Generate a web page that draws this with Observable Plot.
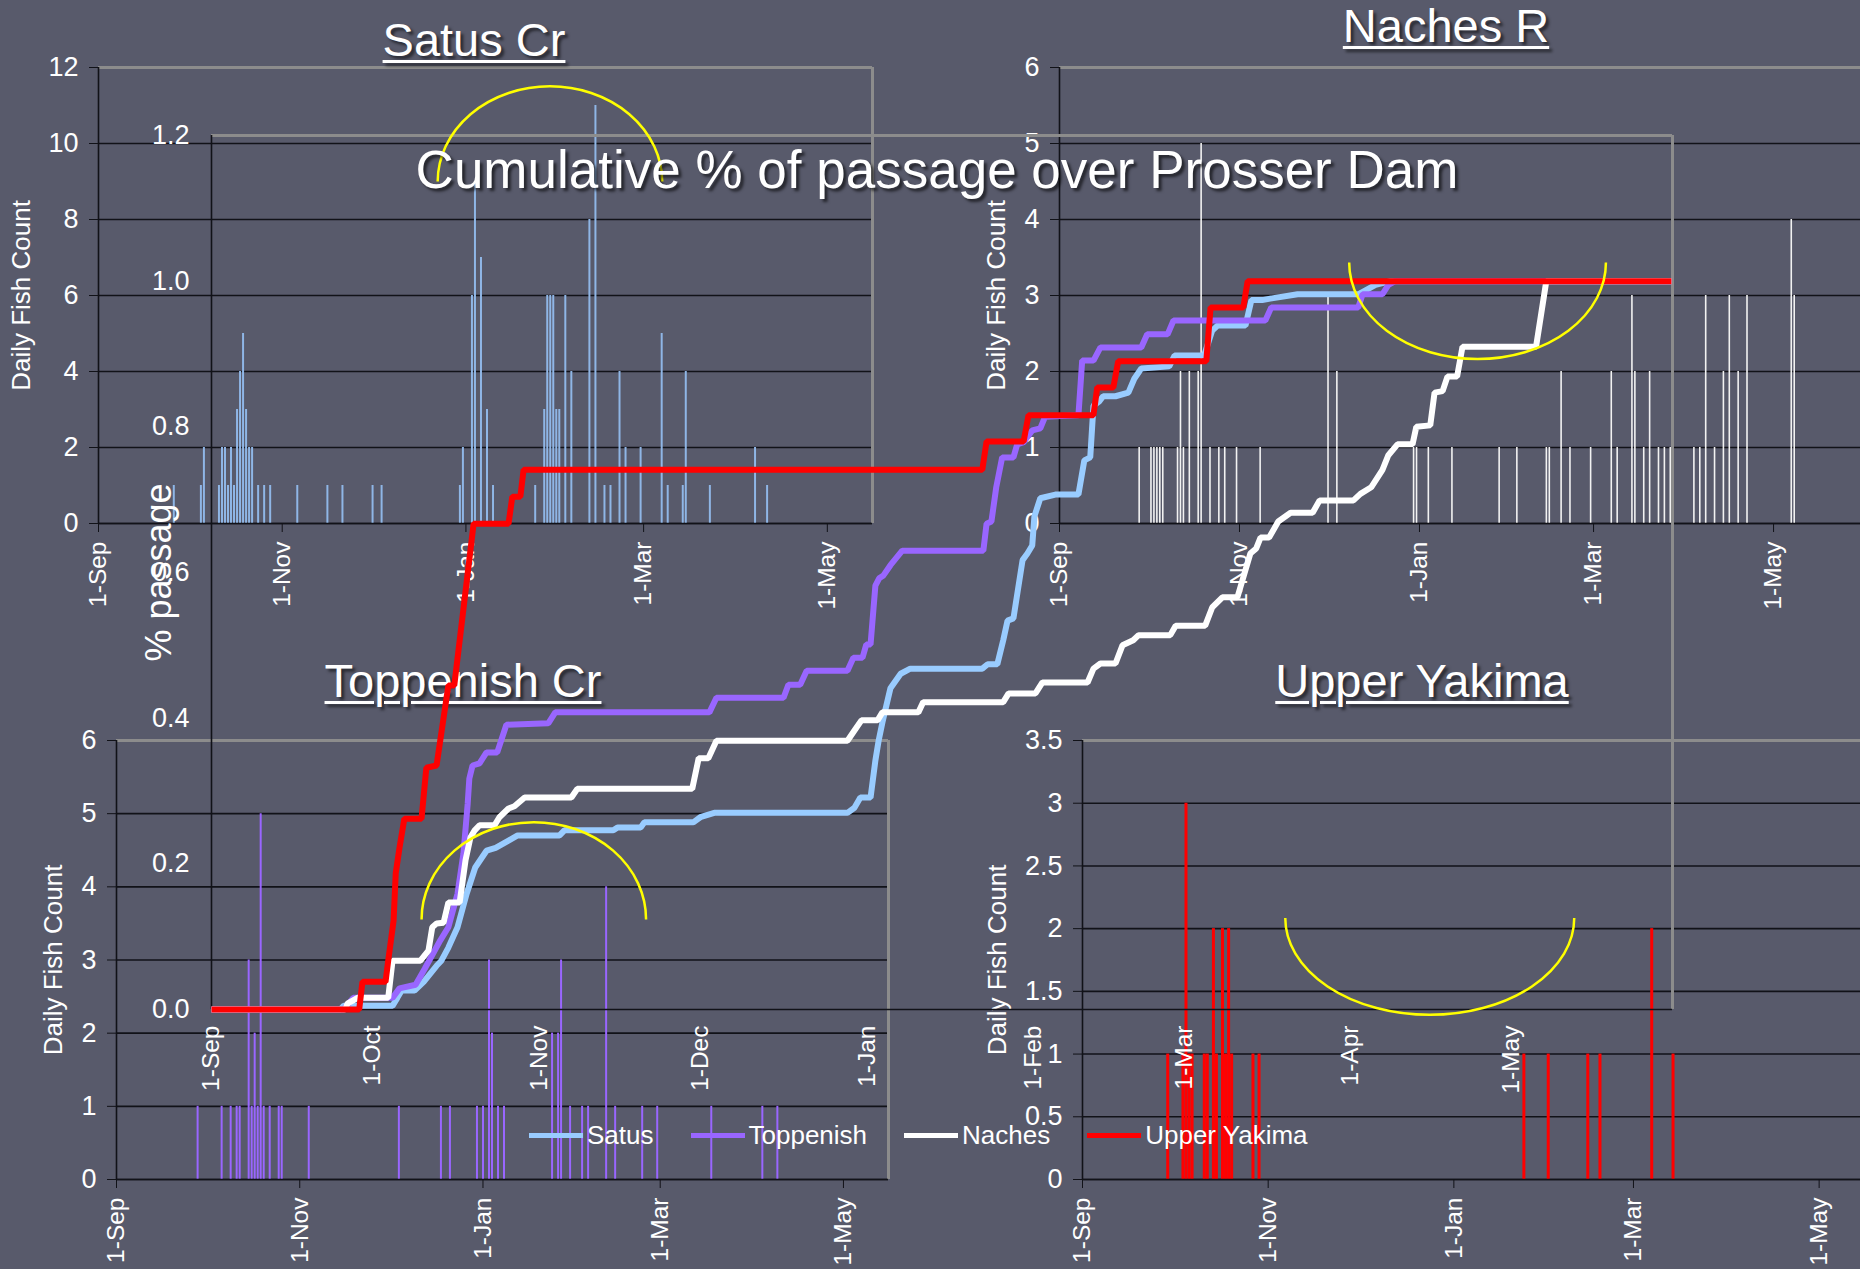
<!DOCTYPE html>
<html>
<head>
<meta charset="utf-8">
<script src="https://cdn.jsdelivr.net/npm/d3@7"></script>
<script src="https://cdn.jsdelivr.net/npm/@observablehq/plot@0.6"></script>
<style>
  html, body { margin: 0; padding: 0; background: #585a6b; }
  #stage { position: relative; width: 1860px; height: 1269px; overflow: hidden; background: #585a6b;
           font-family: "Liberation Sans", Arial, sans-serif; color: #fff; }
  .ptitle { position: absolute; font-size: 47px; line-height: 47px; white-space: nowrap;
            text-decoration: underline; text-decoration-thickness: 3px; text-underline-offset: 4px;
            text-shadow: 3px 3px 3px rgba(0,0,0,0.55); transform: translateX(-50%); }
  .mtitle { position: absolute; font-size: 53px; line-height: 53px; white-space: nowrap;
            text-shadow: 3px 3px 3px rgba(0,0,0,0.6); transform: translateX(-50%); }
  .legend { position: absolute; display: flex; align-items: center; gap: 37px; font-size: 26px; line-height: 30px; }
  .legend .item { display: flex; align-items: center; }
  .legend .sw { display: inline-block; width: 54px; height: 5px; margin-right: 4px; }
</style>
</head>
<body>
<div id="stage"></div>
<script>
// ---------------- DATA ----------------
// x positions are days after 1-Sep
const panelTickDays = [0, 61, 122, 181, 242];
const panelTickLabels = ["1-Sep", "1-Nov", "1-Jan", "1-Mar", "1-May"];
const overlayTickDays = [0, 30, 61, 91, 122, 153, 181, 212, 242];
const overlayTickLabels = ["1-Sep", "1-Oct", "1-Nov", "1-Dec", "1-Jan", "1-Feb", "1-Mar", "1-Apr", "1-May"];

const satusTicks = [0, 2, 4, 6, 8, 10, 12];
const nachesTicks = [0, 1, 2, 3, 4, 5, 6];
const toppTicks = [0, 1, 2, 3, 4, 5, 6];
const yakTicks = [0, 0.5, 1, 1.5, 2, 2.5, 3, 3.5];
const pctTicks = [0, 0.2, 0.4, 0.6, 0.8, 1.0, 1.2];

// Daily fish counts
const satusDays = [25,34,35,40,41,42,43,44,45,46,47,48,49,50,51,53,55,57,66,76,81,91,94,120,121,124,125,127,129,131,145,148,149,150,151,152,153,155,157,163,165,168,170,173,175,180,187,189,194,195,203,218,222];
const satusCounts = [1,1,2,1,2,2,1,2,1,3,4,5,3,2,2,1,1,1,1,1,1,1,1,1,2,6,9,7,3,1,1,3,6,6,6,3,3,6,4,8,11,1,1,4,2,2,5,1,1,4,1,2,1];

const nachesDays = [27,31,32,33,34,35,40,41,42,44,47,48,51,54,56,60,68,91,94,120,121,125,133,149,155,165,166,170,173,180,187,189,194,195,198,200,203,205,207,215,217,219,222,225,227,230,233,248,249];
const nachesCounts = [1,1,1,1,1,1,1,2,1,2,2,5,1,1,1,1,1,3,2,1,1,1,1,1,1,1,1,2,1,1,2,1,3,2,1,2,1,1,1,1,1,3,1,2,3,2,3,4,3];

const toppDays = [27,35,38,40,41,44,45,46,47,48,49,51,54,55,64,94,108,111,120,122,124,125,127,129,145,147,148,151,155,157,163,166,175,180,198,215,220];
const toppCounts = [1,1,1,1,1,3,1,2,1,5,1,1,1,1,1,1,1,1,1,1,3,2,1,1,2,2,3,1,1,1,4,1,1,1,1,1,1];

const yakDays = [28,33,34,35,36,40,41,43,44,46,47,48,49,56,58,145,153,166,170,187,194];
const yakCounts = [1,1,3,1,1,1,1,2,1,2,1,2,1,1,1,1,1,1,1,2,1];

// Cumulative % of passage over Prosser Dam
const satusCumDay = [0,24.0,24.6,33.7,34.6,35.4,37.8,39.5,41.9,42.8,44.1,45.8,47.5,49.1,51.2,52.9,55.3,57.0,64.8,65.7,74.8,75.6,79.9,80.6,89.7,91.0,93.6,118.4,119.7,120.8,122.7,123.6,124.2,124.9,126.4,128.3,130.1,143.5,144.5,146.3,147.4,148.2,149.3,151.0,151.9,152.8,153.2,154.3,157.1,161.4,162.5,163.6,164.2,165.3,166.0,168.3,170.7,171.8,173.1,178.3,179.3,184.8,186.3,187.3,192.5,193.6,195.6,197.1,202.2,213.5,216.7,219.5,271.8];
const satusCumPct = [0,0,0.005,0.005,0.016,0.026,0.026,0.038,0.060,0.067,0.085,0.113,0.159,0.195,0.218,0.222,0.232,0.239,0.239,0.246,0.246,0.250,0.250,0.257,0.257,0.264,0.270,0.270,0.277,0.291,0.291,0.342,0.369,0.394,0.441,0.461,0.468,0.468,0.474,0.474,0.507,0.534,0.537,0.617,0.626,0.637,0.677,0.702,0.707,0.707,0.754,0.758,0.829,0.835,0.842,0.842,0.847,0.866,0.880,0.883,0.898,0.898,0.932,0.939,0.939,0.974,0.974,0.976,0.982,0.982,0.995,1.0,1.0];

const toppCumDay = [0,24.6,26.4,33.7,35.0,38.0,39.7,42.6,44.1,45.8,46.9,47.7,48.0,48.6,49.9,51.2,53.2,54.9,62.7,64.0,92.7,94.0,106.5,107.4,109.6,110.8,118.4,119.5,121.2,121.9,122.7,123.6,124.3,125.1,126.4,128.6,143.7,144.3,145.2,146.1,147.2,149.3,150.0,151.2,152.8,154.3,155.2,161.4,162.1,164.2,165.5,173.1,174.2,178.0,179.1,196.2,197.3,213.5,214.3,218.0,219.1,220.4,271.8];
const toppCumPct = [0,0,0.016,0.016,0.029,0.034,0.056,0.095,0.113,0.159,0.214,0.283,0.317,0.335,0.338,0.353,0.353,0.391,0.393,0.408,0.408,0.428,0.428,0.446,0.446,0.465,0.465,0.483,0.483,0.501,0.501,0.582,0.592,0.596,0.610,0.630,0.630,0.667,0.670,0.717,0.758,0.758,0.776,0.779,0.795,0.798,0.814,0.816,0.891,0.891,0.909,0.909,0.927,0.927,0.946,0.946,0.964,0.964,0.982,0.982,0.995,1.0,1.0];

const nachesCumDay = [0,24.9,25.3,27.2,32.9,33.7,38.9,40.4,41.1,41.9,43.2,44.1,46.2,47.3,48.2,49.0,49.9,52.7,53.6,55.3,56.4,58.3,67.0,68.1,89.5,90.7,92.5,94.0,118.4,119.7,121.0,124.0,124.9,131.6,132.5,147.4,148.4,153.4,154.7,163.1,164.2,165.5,168.3,169.6,171.6,172.6,178.5,179.5,185.0,186.3,188.2,191.0,193.4,194.5,195.3,196.9,198.6,200.9,205.0,206.3,212.6,213.9,215.9,218.0,219.1,220.8,223.6,224.3,226.9,227.7,229.2,230.1,231.9,232.9,246.6,248.5,271.8];
const nachesCumPct = [0,0,0.008,0.016,0.016,0.067,0.067,0.081,0.113,0.118,0.119,0.147,0.147,0.205,0.236,0.246,0.253,0.253,0.264,0.276,0.279,0.291,0.291,0.303,0.303,0.345,0.345,0.369,0.369,0.383,0.397,0.397,0.408,0.408,0.422,0.422,0.434,0.434,0.449,0.449,0.468,0.475,0.475,0.500,0.507,0.514,0.514,0.527,0.527,0.552,0.566,0.566,0.626,0.633,0.648,0.648,0.670,0.682,0.682,0.699,0.699,0.708,0.717,0.741,0.761,0.776,0.776,0.800,0.802,0.847,0.849,0.869,0.869,0.910,0.910,1.0,1.0];

const yakCumDay = [0,27.5,28.1,32.4,32.9,33.9,34.3,35.0,35.9,39.1,40.0,41.9,44.1,45.2,47.1,48.8,55.3,56.0,57.5,58.1,143.5,144.3,151.2,152.1,164.2,164.9,167.9,168.8,185.2,186.0,192.1,192.9,271.8];
const yakCumPct = [0,0,0.038,0.038,0.067,0.122,0.187,0.222,0.262,0.262,0.332,0.335,0.445,0.445,0.562,0.667,0.667,0.704,0.704,0.741,0.741,0.780,0.780,0.816,0.816,0.854,0.854,0.890,0.890,0.964,0.964,1.0,1.0];

const seriesNames = ["Satus", "Toppenish", "Naches", "Upper Yakima"];

// Yellow highlight arcs (overlay data units: day, pct; radii in days / pct)
const arcDay = [63.1, 235.8, 60.1, 226.9];
const arcPct = [1.136, 1.025, 0.123, 0.125];
const arcRDays = [20.9, 23.9, 20.9, 26.9];
const arcRPct = [0.131, 0.1325, 0.1335, 0.133];
const arcSide = ["upper", "lower", "upper", "lower"];

// ---------------- STYLE ----------------
const FONT = '"Liberation Sans", Arial, sans-serif';
const GRID = "#111218";
const FRAME = "#8c8c8c";
const seriesColors = ["#99ccff", "#9966ff", "#ffffff", "#ff0000"];

const stage = document.getElementById("stage");
function place(node, left, top, z) {
  node.style.position = "absolute";
  node.style.left = left + "px";
  node.style.top = top + "px";
  node.style.zIndex = z;
  stage.appendChild(node);
}
function fixFonts(svg, xs, ys) {
  d3.select(svg).selectAll('g[aria-label="x-axis tick label"]').attr("font-size", xs);
  d3.select(svg).selectAll('g[aria-label="y-axis tick label"]').attr("font-size", ys);
}

function panel(cfg) {
  const bars = cfg.days.map((d, i) => ({day: d, count: cfg.counts[i]}));
  const svg = Plot.plot({
    width: cfg.width, height: cfg.height,
    marginLeft: cfg.mL, marginRight: cfg.mR, marginTop: cfg.mT, marginBottom: cfg.mB,
    style: {background: "transparent", color: "#fff", fontFamily: FONT, overflow: "visible", maxWidth: "none"},
    x: {type: "linear", domain: [0, cfg.xMax]},
    y: {type: "linear", domain: [0, cfg.yMax]},
    marks: [
      Plot.ruleY(cfg.yTicks, {stroke: GRID, strokeWidth: 1.6}),
      Plot.ruleY([cfg.yMax], {stroke: FRAME, strokeWidth: 3}),
      Plot.ruleX([cfg.xMax], {stroke: FRAME, strokeWidth: 3}),
      Plot.ruleX(bars, {x: "day", y1: 0, y2: "count", stroke: cfg.color, strokeWidth: cfg.barW}),
      Plot.ruleX([0], {stroke: GRID, strokeWidth: 1.6}),
      Plot.ruleY([0], {stroke: GRID, strokeWidth: 1.6}),
      Plot.axisY({ticks: cfg.yTicks, tickFormat: d => String(d), tickSize: 9, tickPadding: 11,
                  stroke: GRID, fill: "#fff", fontSize: 27, label: null}),
      Plot.axisX({ticks: panelTickDays, tickFormat: d => panelTickLabels[panelTickDays.indexOf(d)],
                  tickRotate: -90, tickSize: 9, tickPadding: 9, stroke: GRID, fill: "#fff", fontSize: 24.5, label: null}),
      Plot.text(["Daily Fish Count"], {frameAnchor: "left", textAnchor: "middle", dx: cfg.labelDx, rotate: -90,
                                       fontSize: 26, fill: "#fff"})
    ]
  });
  fixFonts(svg, 24.5, 27);
  place(svg, cfg.left, cfg.top, 1);
}

panel({left: 0, top: 0, width: 900, height: 620, mL: 98, mR: 28, mT: 67, mB: 97,
       xMax: 257, yMax: 12, yTicks: satusTicks, days: satusDays, counts: satusCounts,
       color: "#8fb6e6", barW: 2, labelDx: -77});
panel({left: 960, top: 0, width: 960, height: 620, mL: 99, mR: 0, mT: 67, mB: 97,
       xMax: 291.8, yMax: 6, yTicks: nachesTicks, days: nachesDays, counts: nachesCounts,
       color: "#f2f2f2", barW: 1.6, labelDx: -63});
panel({left: 0, top: 620, width: 920, height: 649, mL: 116, mR: 32, mT: 120, mB: 90,
       xMax: 257, yMax: 6, yTicks: toppTicks, days: toppDays, counts: toppCounts,
       color: "#9966ff", barW: 2, labelDx: -63});
panel({left: 960, top: 620, width: 960, height: 649, mL: 122, mR: 0, mT: 120, mB: 90,
       xMax: 275.3, yMax: 3.5, yTicks: yakTicks, days: yakDays, counts: yakCounts,
       color: "#ff0000", barW: 3, labelDx: -84.5});

// Panel titles
const panelTitles = ["Satus Cr", "Naches R", "Toppenish Cr", "Upper Yakima"];
const panelTitlePos = [[474, 16], [1446, 2], [463, 657], [1422, 657]];
panelTitles.forEach((t, i) => {
  const d = document.createElement("div");
  d.className = "ptitle";
  d.textContent = t;
  place(d, panelTitlePos[i][0], panelTitlePos[i][1], 2);
});

// Overlay: cumulative % passage
const cum = [
  {days: satusCumDay, pct: satusCumPct},
  {days: toppCumDay, pct: toppCumPct},
  {days: nachesCumDay, pct: nachesCumPct},
  {days: yakCumDay, pct: yakCumPct}
].map((s, k) => s.days.map((d, i) => ({day: d, pct: s.pct[i], series: seriesNames[k]})));

const arcMark = (index, scales) => {
  const g = d3.create("svg:g").attr("fill", "none").attr("stroke", "#ffff00").attr("stroke-width", 2.5);
  arcDay.forEach((d, i) => {
    const cx = scales.x(d), cy = scales.y(arcPct[i]);
    const rx = Math.abs(scales.x(d + arcRDays[i]) - cx);
    const ry = Math.abs(scales.y(arcPct[i] + arcRPct[i]) - cy);
    const sweep = arcSide[i] === "upper" ? 1 : 0;
    g.append("path").attr("d", `M${cx - rx},${cy}A${rx},${ry} 0 0 ${sweep} ${cx + rx},${cy}`);
  });
  return g.node();
};

const overlay = Plot.plot({
  width: 1860, height: 1269,
  marginLeft: 211, marginRight: 188, marginTop: 135, marginBottom: 260,
  style: {background: "transparent", color: "#fff", fontFamily: FONT, overflow: "visible", maxWidth: "none"},
  x: {type: "linear", domain: [0, 272]},
  y: {type: "linear", domain: [0, 1.2]},
  marks: [
    Plot.ruleY([1.2], {stroke: FRAME, strokeWidth: 3}),
    Plot.ruleX([272], {stroke: FRAME, strokeWidth: 3}),
    Plot.ruleX([0], {stroke: GRID, strokeWidth: 1.6}),
    Plot.ruleY([0], {stroke: GRID, strokeWidth: 1.6}),
    ...cum.map((s, k) => Plot.line(s, {x: "day", y: "pct", stroke: seriesColors[k], strokeWidth: 6,
                                        strokeLinejoin: "miter", strokeLinecap: "butt"})),
    Plot.axisY({ticks: pctTicks, tickFormat: d3.format(".1f"), tickSize: 0, tickPadding: 22, fill: "#fff", fontSize: 27, label: null}),
    Plot.axisX({ticks: overlayTickDays, tickFormat: d => overlayTickLabels[overlayTickDays.indexOf(d)],
                tickRotate: -90, tickSize: 0, tickPadding: 16, fill: "#fff", fontSize: 24.5, label: null}),
    Plot.text(["% passage"], {frameAnchor: "left", textAnchor: "middle", dx: -52, rotate: -90, fontSize: 36, fill: "#fff"}),
    arcMark
  ]
});
fixFonts(overlay, 24.5, 27);
overlay.style.pointerEvents = "none";
place(overlay, 0, 0, 3);

// Main title
const mt = document.createElement("div");
mt.className = "mtitle";
mt.textContent = "Cumulative % of passage over Prosser Dam";
place(mt, 937, 143, 4);

// Legend
const leg = document.createElement("div");
leg.className = "legend";
seriesNames.forEach((n, i) => {
  const it = document.createElement("div");
  it.className = "item";
  const sw = document.createElement("span");
  sw.className = "sw";
  sw.style.background = seriesColors[i];
  const tx = document.createElement("span");
  tx.textContent = n;
  it.appendChild(sw);
  it.appendChild(tx);
  leg.appendChild(it);
});
place(leg, 529, 1120, 4);
</script>
</body>
</html>
